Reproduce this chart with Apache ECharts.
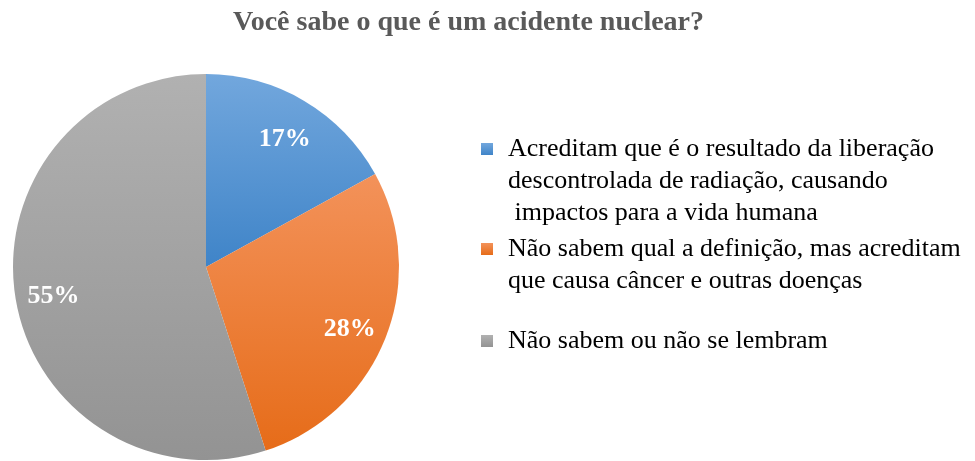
<!DOCTYPE html>
<html>
<head>
<meta charset="utf-8">
<script src="https://cdn.jsdelivr.net/npm/echarts@6/dist/echarts.min.js"></script>
<style>
  html, body { margin: 0; padding: 0; background: #fff; }
  #chart { width: 975px; height: 461px; }
</style>
</head>
<body>
<div id="chart"></div>
<script>
// respostas e percentuais
var categories = [
    'Acreditam que é o resultado da liberação\ndescontrolada de radiação, causando\n impactos para a vida humana',
    'Não sabem qual a definição, mas acreditam\nque causa câncer e outras doenças',
    'Não sabem ou não se lembram'
];
var values = [17, 28, 55];
// cores (topo, base) de cada fatia
var topColors = ['#72a7dd', '#f3925a', '#b1b1b1'];
var bottomColors = ['#3f84c8', '#e66c19', '#939393'];

(function () {
    var chart = echarts.init(document.getElementById('chart'));
    var serif = '"Liberation Serif", "Times New Roman", serif';

    var pieData = [], labelData = [];
    categories.forEach(function (name, i) {
        pieData.push({
            name: name,
            value: values[i],
            itemStyle: {
                color: new echarts.graphic.LinearGradient(0, 0, 0, 1, [
                    { offset: 0, color: topColors[i] },
                    { offset: 1, color: bottomColors[i] }
                ])
            }
        });
        labelData.push({ name: name, value: values[i] });
    });

    // uma legenda por item, com linhas vazias antes para o ícone ficar na 1a linha
    var legendTops = [69, 201, 325];
    var legends = categories.map(function (name, i) {
        var n = name.split('\n').length;
        return {
            orient: 'vertical',
            left: 481,
            top: legendTops[i],
            padding: 0,
            selectedMode: false,
            itemWidth: 12,
            itemHeight: 12,
            itemGap: 0,
            icon: 'rect',
            itemStyle: { borderWidth: 0 },
            data: [name],
            formatter: function (nm) {
                return new Array(n).join('\n') + nm;
            },
            textStyle: {
                fontFamily: serif,
                fontSize: 26,
                lineHeight: 32,
                color: '#000',
                padding: [0, 0, 0, 10]
            }
        };
    });

    var option = {
        animation: false,
        title: {
            text: 'Você sabe o que é um acidente nuclear?',
            left: 233,
            top: 9,
            padding: 0,
            textStyle: {
                fontFamily: serif,
                fontSize: 28,
                fontWeight: 'bold',
                color: '#595959'
            }
        },
        legend: legends,
        series: [
            {
                type: 'pie',
                center: [206, 267],
                radius: 193,
                startAngle: 90,
                clockwise: true,
                silent: true,
                label: { show: false },
                labelLine: { show: false },
                itemStyle: { borderWidth: 0 },
                data: pieData
            },
            {
                // anel transparente só para posicionar os rótulos
                type: 'pie',
                center: [206, 267],
                radius: [110, 193],
                startAngle: 90,
                clockwise: true,
                silent: true,
                legendHoverLink: false,
                itemStyle: { color: 'rgba(0,0,0,0)', borderWidth: 0 },
                label: {
                    show: true,
                    position: 'inside',
                    formatter: '{c}%',
                    fontFamily: serif,
                    fontSize: 26,
                    fontWeight: 'bold',
                    color: '#fff',
                    offset: [0, 5]
                },
                labelLine: { show: false },
                data: labelData
            }
        ]
    };
    chart.setOption(option);
})();
</script>
</body>
</html>
